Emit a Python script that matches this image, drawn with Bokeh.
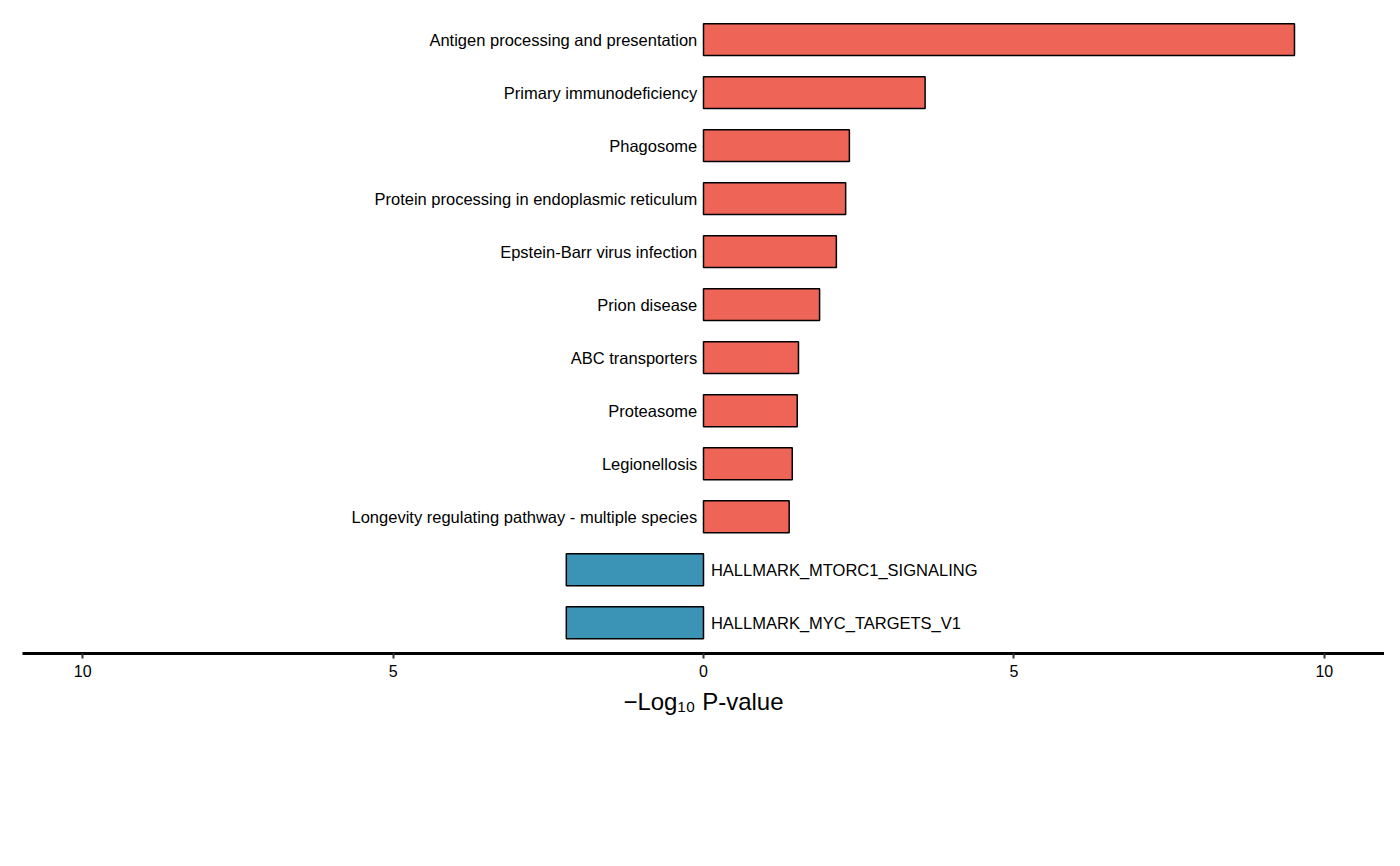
from bokeh.plotting import figure
from bokeh.models import ColumnDataSource, Legend, LegendItem, FixedTicker, CustomJSTickFormatter
from bokeh.core.properties import value
from bokeh.embed import file_html
from bokeh.resources import INLINE

# data, top to bottom
terms = ["Antigen processing and presentation", "Primary immunodeficiency", "Phagosome",
         "Protein processing in endoplasmic reticulum", "Epstein-Barr virus infection",
         "Prion disease", "ABC transporters", "Proteasome", "Legionellosis",
         "Longevity regulating pathway - multiple species",
         "HALLMARK_MTORC1_SIGNALING", "HALLMARK_MYC_TARGETS_V1"]
scores = [9.52, 3.57, 2.35, 2.29, 2.14, 1.87, 1.53, 1.51, 1.43, 1.38, -2.21, -2.21]
groups = ["KEGG"] * 10 + ["MsigDB"] * 2
colors = {"KEGG": "#EE6457", "MsigDB": "#3B93B6"}

n = len(terms)
pos = [n - 1 - i for i in range(n)]

p = figure(frame_width=1362, frame_height=652, x_range=(-10.97, 10.97), y_range=(-0.58, 11.72),
           output_backend="svg", toolbar_location=None,
           min_border_left=22, min_border_right=0, min_border_top=1, min_border_bottom=0)
p.outline_line_color = None
p.grid.visible = False
p.yaxis.visible = False

items = []
for g in ["KEGG", "MsigDB"]:
    idx = [i for i in range(n) if groups[i] == g]
    src = ColumnDataSource(dict(y=[pos[i] for i in idx], right=[scores[i] for i in idx]))
    r = p.hbar(y="y", left=0, right="right", height=0.6, source=src,
               fill_color=colors[g], line_color="black", line_width=1.5)
    items.append(LegendItem(label=g, renderers=[r]))

lab_x = [-0.1 if s > 0 else 0.12 for s in scores]
align = ["right" if s > 0 else "left" for s in scores]
p.text(x=lab_x, y=pos, text=terms, text_align=align, text_baseline="middle",
       text_font=value("Liberation Sans"), text_font_size="16.5px")

ax = p.xaxis[0]
ax.ticker = FixedTicker(ticks=[-10, -5, 0, 5, 10])
ax.formatter = CustomJSTickFormatter(code="return Math.abs(tick).toString();")
ax.axis_line_width = 3
ax.axis_line_color = "black"
ax.major_tick_line_color = "#333333"
ax.major_tick_line_width = 2
ax.major_tick_in = 0
ax.major_tick_out = 5
ax.minor_tick_line_color = None
ax.major_label_text_font = "Liberation Sans"
ax.major_label_text_font_size = "16px"
ax.major_label_text_color = "black"
ax.major_label_standoff = 6
ax.axis_label = "\u2212Log\u2081\u2080 P-value"
ax.axis_label_text_font = "Liberation Sans"
ax.axis_label_text_font_style = "normal"
ax.axis_label_text_font_size = "24px"
ax.axis_label_text_color = "black"
ax.axis_label_standoff = 8

legend = Legend(items=items, orientation="horizontal", location="center",
                label_text_font="Liberation Sans", label_text_font_size="27px",
                label_text_color="black",
                glyph_width=42, glyph_height=42, label_standoff=8, spacing=8,
                border_line_color=None, margin=0, padding=4)
p.add_layout(legend, "below")
legend.margin = 40

open("out.html", "w").write(file_html(p, INLINE))
